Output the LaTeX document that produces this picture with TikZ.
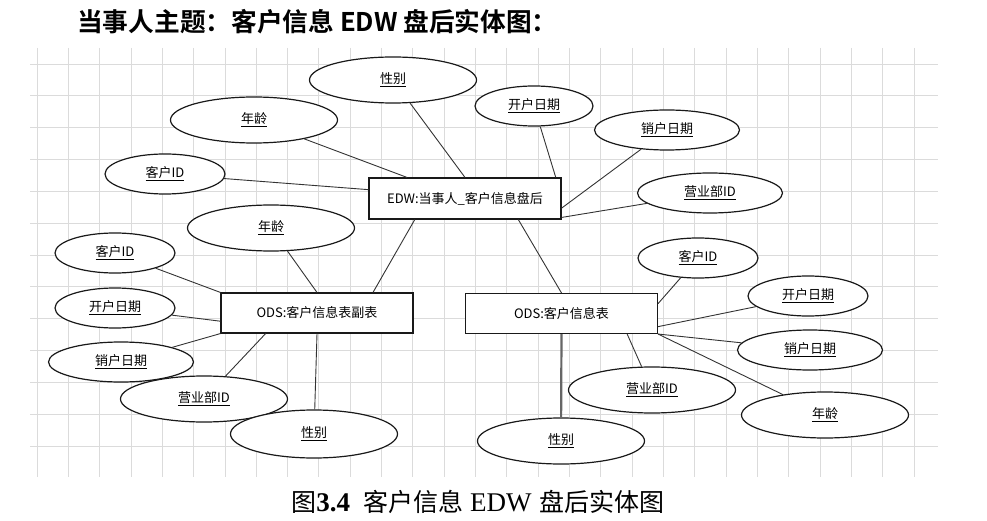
\documentclass[tikz,border=0pt]{standalone}
\usepackage{fontspec}
\setmainfont{Liberation Serif}
\newfontfamily\cjk{Noto Sans CJK SC}
\newfontfamily\cjkb{Noto Sans CJK SC Bold}
\usetikzlibrary{shapes.geometric,calc}
\tikzset{
  attr/.style={ellipse, draw=black!90, line width=1.2pt, fill=white, inner sep=0pt,
    font=\cjk\fontsize{13}{15}\selectfont},
  attrS/.style={attr, minimum width=120pt, minimum height=40pt},
  attrM/.style={attr, minimum width=145pt, minimum height=40pt},
  attrL/.style={attr, minimum width=167pt, minimum height=46pt},
  entity/.style={rectangle, draw=black!90, line width=1.1pt, fill=white, inner sep=0pt,
    minimum width=192pt, minimum height=40pt, font=\cjk\fontsize{13}{15}\selectfont},
  link/.style={draw=black!80, line width=0.9pt},
  thicklink/.style={draw=black!60, line width=2.2pt},
  gridline/.style={draw=black!14, line width=0.8pt}
}
\begin{document}
\begin{tikzpicture}[x=1pt,y=-1pt]
\useasboundingbox (0,0) rectangle (987,521);
% grid
\foreach \i in {0,...,28} {
  \draw[gridline] ({37+31.32*\i},48) -- ({37+31.32*\i},477);
}
\foreach \j in {0,...,12} {
  \draw[gridline] (30,{64+31.83*\j}) -- (938,{64+31.83*\j});
}
% title and caption
\node[anchor=west, inner sep=0pt] (title) at (77,22) {\cjkb\fontsize{25.7}{30}\selectfont 当事人主题：客户信息 EDW 盘后实体图：};
\node[inner sep=0pt] (cap) at (478,502) {\fontsize{25}{30}\selectfont{\cjk 图}{\fontsize{27}{30}\selectfont\textbf{3.4}}\hspace{13pt}{\cjk 客户信息}\hspace{7pt}{\fontsize{27}{30}\selectfont EDW}\hspace{8pt}{\cjk 盘后实体图}};
% entities
\node[entity, minimum height=41pt] (edw) at (465,198.5) {EDW:当事人\_客户信息盘后};
\node[entity] (odsA) at (317,313) {ODS:客户信息表副表};
\node[entity] (odsB) at (561.5,313.5) {ODS:客户信息表};
% EDW attributes
\node[attrL] (sexE) at (393,80) {\underline{性别}};
\node[attrL] (ageE) at (254,120) {\underline{年龄}};
\node[attrS] (cidE) at (165,174) {\underline{客户ID}};
\node[attrS, minimum width=118pt] (openE) at (534,106) {\underline{开户日期}};
\node[attrM] (closeE) at (667,130) {\underline{销户日期}};
\node[attrM] (deptE) at (710,193) {\underline{营业部ID}};
% ODS副表 attributes
\node[attrL] (ageA) at (271,228) {\underline{年龄}};
\node[attrS] (cidA) at (115,253) {\underline{客户ID}};
\node[attrS] (openA) at (115,308) {\underline{开户日期}};
\node[attrM] (closeA) at (121,362) {\underline{销户日期}};
\node[attrL] (deptA) at (204,399) {\underline{营业部ID}};
\node[attrL, minimum height=48pt] (sexA) at (314,434) {\underline{性别}};
% ODS客户信息表 attributes
\node[attrS] (cidB) at (698,258) {\underline{客户ID}};
\node[attrS] (openB) at (808,296) {\underline{开户日期}};
\node[attrM] (closeB) at (810,350) {\underline{销户日期}};
\node[attrL] (ageB) at (825,415) {\underline{年龄}};
\node[attrL] (deptB) at (652,390) {\underline{营业部ID}};
\node[attrL] (sexB) at (561,441) {\underline{性别}};
% connectors EDW
\draw[link] (sexE) -- (edw.north);
\draw[link] (ageE) -- ($(edw.north west)!0.2!(edw.north east)$);
\draw[link] (cidE) -- ($(edw.north west)!0.29!(edw.south west)$);
\draw[link] (openE) -- ($(edw.north west)!0.97!(edw.north east)$);
\draw[link] (closeE) -- ($(edw.north east)!0.73!(edw.south east)$);
\draw[link] (deptE) -- ($(edw.north east)!0.95!(edw.south east)$);
\draw[link] ($(edw.south west)!0.24!(edw.south east)$) -- ($(odsA.north west)!0.79!(odsA.north east)$);
\draw[link] ($(edw.south west)!0.776!(edw.south east)$) -- (odsB.north);
% connectors ODS副表
\draw[link] (ageA) -- (odsA.north);
\draw[link] (cidA) -- (odsA.north west);
\draw[link] (openA) -- ($(odsA.north west)!0.7!(odsA.south west)$);
\draw[link] (closeA) -- (odsA.south west);
\draw[link] (deptA) -- ($(odsA.south west)!0.234!(odsA.south east)$);
\draw[link] (sexA) -- (odsA.south);
% connectors ODS客户信息表
\draw[link] (cidB) -- ($(odsB.north east)!0.26!(odsB.south east)$);
\draw[link] (openB) -- ($(odsB.north east)!0.82!(odsB.south east)$);
\draw[link] (closeB) -- (odsB.south east);
\draw[link] (ageB) -- (odsB.south east);
\draw[link] (deptB) -- ($(odsB.south west)!0.84!(odsB.south east)$);
\draw[thicklink] (sexB) -- (odsB.south);
\end{tikzpicture}
\end{document}
